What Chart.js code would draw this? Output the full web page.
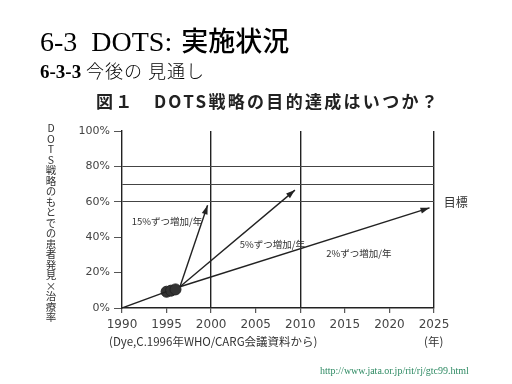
<!DOCTYPE html>
<html>
<head>
<meta charset="utf-8">
<script src="https://cdn.jsdelivr.net/npm/chart.js@4/dist/chart.umd.min.js"></script>
<style>
  body { margin: 0; background: #fff; }
  #wrap { position: relative; width: 512px; height: 384px; overflow: hidden; }
  #myChart { position: absolute; left: 0; top: 0; }
  .t { position: absolute; white-space: nowrap; line-height: 1; }
  .serif { font-family: "Liberation Serif", "DejaVu Serif", serif; }
  .jp { font-family: "Noto Sans CJK JP", sans-serif; }
</style>
</head>
<body>
<div id="wrap">
  <canvas id="myChart" width="512" height="384"></canvas>
  <div class="t" style="left:40px; top:26px; font-size:28px; color:#000;"><span class="serif">6-3&nbsp;&nbsp;DOTS:</span><span class="jp" style="font-weight:500; margin-left:9px; font-size:27px;">実施状況</span></div>
  <div class="t" style="left:40px; top:61px; font-size:19px; color:#000;"><span class="serif" style="font-weight:bold;">6-3-3</span> <span class="jp" style="font-size:18px; font-weight:300; letter-spacing:1px;">今後の 見通し</span></div>
  <div class="t jp" style="left:96px; top:92px; font-size:17px; font-weight:bold; color:#222; letter-spacing:2.3px;">図１　DOTS戦略の目的達成はいつか？</div>
  <div class="t jp" style="left:45px; top:123px; font-size:10.5px; color:#333; writing-mode:vertical-rl; text-orientation:upright;">DOTS戦略のもとでの患者発見×治療率</div>
  <div class="t jp" style="left:109px; top:336px; font-size:11.5px; color:#333;">(Dye,C.1996年WHO/CARG会議資料から)</div>
  <div class="t jp" style="left:424px; top:336px; font-size:11.5px; color:#333;">(年)</div>
  <div class="t serif" style="left:320px; top:366px; font-size:10px; color:#2e8a63;">http://www.jata.or.jp/rit/rj/gtc99.html</div>
</div>
<script>
// observed and projected detection x treatment rate (%)
const baseYears = [1990, 1995];
const baseRates = [0, 9.2];
const obsYears = [1995, 1995.5, 1996];
const obsRates = [9.2, 9.8, 10.5];
const fastYears = [1996.5, 1999.6];   // 15%/year
const fastRates = [12, 58];
const midYears = [1996.5, 2009.4];    // 5%/year
const midRates = [12, 66.6];
const slowYears = [1996.5, 2024.5];   // 2%/year
const slowRates = [12, 56.6];

const yTickValues = [0, 20, 40, 60, 70, 80, 100];
const targetLines = [60, 70, 80];
const dividerYears = [2000, 2010, 2025];

const pts = (xs, ys) => xs.map((x, i) => ({ x: x, y: ys[i] }));

const lineStyle = {
    borderColor: '#222',
    borderWidth: 1.4,
    pointRadius: 0,
    fill: false,
    tension: 0
};

const chartLabels = {
    id: 'chartLabels',
    afterDraw(chart, args, opts) {
        const ctx = chart.ctx;
        const xs = chart.scales.x, ys = chart.scales.y;
        ctx.save();
        ctx.fillStyle = '#333';
        ctx.textBaseline = 'middle';
        opts.items.forEach(it => {
            ctx.font = it.font;
            ctx.fillText(it.text, xs.getPixelForValue(it.x), ys.getPixelForValue(it.y));
        });
        ctx.restore();
    }
};

const arrowHeads = {
    id: 'arrowHeads',
    afterDatasetsDraw(chart) {
        const ctx = chart.ctx;
        chart.data.datasets.forEach((ds, i) => {
            if (!ds.arrow) return;
            const pts = chart.getDatasetMeta(i).data;
            const a = pts[pts.length - 2], b = pts[pts.length - 1];
            const ang = Math.atan2(b.y - a.y, b.x - a.x);
            ctx.save();
            ctx.translate(b.x, b.y);
            ctx.rotate(ang);
            ctx.fillStyle = '#222';
            ctx.beginPath();
            ctx.moveTo(0, 0);
            ctx.lineTo(-9, -3);
            ctx.lineTo(-9, 3);
            ctx.closePath();
            ctx.fill();
            ctx.restore();
        });
    }
};

const config = {
    type: 'line',
    data: {
        datasets: [
            Object.assign({ data: pts(baseYears, baseRates) }, lineStyle),
            Object.assign({ data: pts(fastYears, fastRates), arrow: true }, lineStyle),
            Object.assign({ data: pts(midYears, midRates), arrow: true }, lineStyle),
            Object.assign({ data: pts(slowYears, slowRates), arrow: true }, lineStyle),
            {
                data: pts(obsYears, obsRates),
                showLine: false,
                pointRadius: 5.5,
                pointBackgroundColor: '#333',
                pointBorderColor: '#222',
                pointBorderWidth: 1
            }
        ]
    },
    options: {
        responsive: false,
        animation: false,
        devicePixelRatio: 1,
        layout: { padding: { left: 0, top: 131, right: 78, bottom: 0 } },
        plugins: {
            legend: { display: false },
            tooltip: { enabled: false },
            chartLabels: {
                items: [
                    { text: '15%ずつ増加/年', x: 1991.1, y: 48.7, font: '9.5px "Noto Sans CJK JP"' },
                    { text: '5%ずつ増加/年', x: 2003.2, y: 36.1, font: '9.5px "Noto Sans CJK JP"' },
                    { text: '2%ずつ増加/年', x: 2012.9, y: 30.9, font: '9.5px "Noto Sans CJK JP"' },
                    { text: '目標', x: 2026.1, y: 59.4, font: '12px "Noto Sans CJK JP"' }
                ]
            }
        },
        scales: {
            x: {
                type: 'linear',
                min: 1990,
                max: 2025,
                afterFit: s => { s.height = 76; },
                ticks: {
                    stepSize: 5,
                    padding: 5,
                    maxRotation: 0,
                    color: '#444',
                    font: { family: 'DejaVu Sans', size: 12 },
                    callback: v => String(v)
                },
                grid: {
                    color: c => dividerYears.includes(c.tick && c.tick.value) ? '#222' : 'rgba(0,0,0,0)',
                    lineWidth: 1.4,
                    tickColor: '#333',
                    tickLength: 5,
                    tickWidth: 1
                },
                border: { display: true, color: '#222', width: 1.4 }
            },
            y: {
                min: 0,
                max: 100,
                afterFit: s => { s.width = 122; },
                afterBuildTicks: s => { s.ticks = yTickValues.map(v => ({ value: v })); },
                ticks: {
                    padding: 4,
                    color: '#444',
                    font: { family: 'DejaVu Sans', size: 11 },
                    callback: v => v === 70 ? '' : v + '%'
                },
                grid: {
                    color: c => targetLines.includes(c.tick && c.tick.value) ? '#444' : 'rgba(0,0,0,0)',
                    lineWidth: 1,
                    tickColor: c => (c.tick && c.tick.value === 70) ? 'rgba(0,0,0,0)' : '#555',
                    tickLength: 8,
                    tickWidth: 1
                },
                border: { display: true, color: '#222', width: 1.4 }
            }
        }
    },
    plugins: [chartLabels, arrowHeads]
};

var myChart = new Chart(
    document.getElementById('myChart'),
    config
);
</script>
</body>
</html>
